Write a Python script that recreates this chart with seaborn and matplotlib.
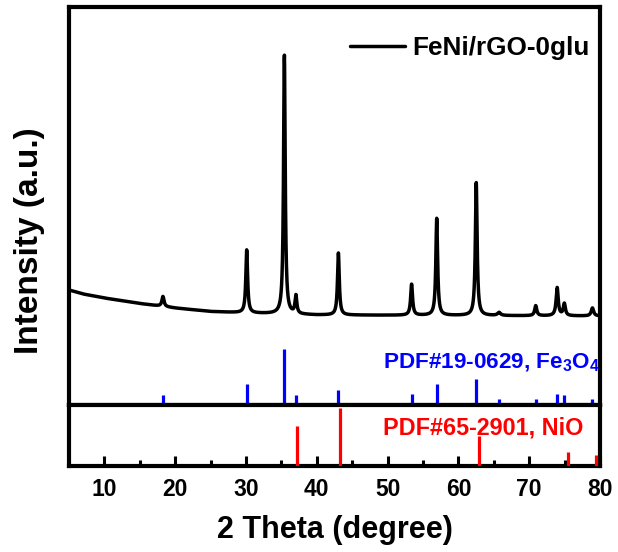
import numpy as np
import pandas as pd
import matplotlib
matplotlib.use("Agg")
import matplotlib.pyplot as plt
import seaborn as sns

# ---------------- data ----------------
# measured pattern: peak positions (deg), peak heights above background (a.u.)
peak_pos = [18.27, 30.10, 35.42, 37.05, 43.05, 53.39, 56.94, 62.52, 65.74, 70.92, 73.95, 74.96, 78.93]
peak_hgt = [10, 63, 259, 18, 62, 31, 97, 133, 3, 10, 28, 12, 8]
peak_fwhm = [0.35, 0.30, 0.28, 0.30, 0.30, 0.32, 0.30, 0.30, 0.5, 0.35, 0.35, 0.35, 0.4]
# background read at a few angles (a.u.)
bg_angle = [5, 7, 10, 15, 20, 25, 30, 40, 60, 80]
bg_level = [115, 111, 107, 101.5, 97, 93.5, 92, 90, 89.5, 89]

# reference sticks
fe3o4_pos = [18.27, 30.10, 35.42, 37.05, 43.05, 53.39, 56.94, 62.52, 65.74, 70.92, 73.95, 74.96, 78.93]
fe3o4_int = [10, 21, 56, 10, 15.5, 11, 21, 26, 6, 6, 11, 10, 6]
nio_pos = [37.25, 43.28, 62.88, 75.42, 79.41]
nio_int = [40, 58, 30, 14, 11]

x_ticks = [10, 20, 30, 40, 50, 60, 70, 80]
sample_label = "FeNi/rGO-0glu"
fe_label = r"PDF#19-0629, Fe$_\mathbf{3}$O$_\mathbf{4}$"
ni_label = "PDF#65-2901, NiO"

# ---------------- build measured profile ----------------
tt = np.linspace(5, 80, 6001)
inten = np.interp(tt, bg_angle, bg_level)
for p, h, w in zip(peak_pos, peak_hgt, peak_fwhm):
    g = (w / 2) ** 2
    inten = inten + h * g / ((tt - p) ** 2 + g)
df = pd.DataFrame({"2theta": tt, "I": inten})

# ---------------- style ----------------
sns.set_theme(style="white")
plt.rcParams["font.family"] = ["Liberation Sans", "DejaVu Sans"]
plt.rcParams["font.weight"] = "bold"
plt.rcParams["text.color"] = "black"
plt.rcParams["axes.labelcolor"] = "black"
plt.rcParams["xtick.color"] = "black"
plt.rcParams["ytick.color"] = "black"
plt.rcParams["mathtext.fontset"] = "custom"
plt.rcParams["mathtext.rm"] = "Liberation Sans:bold"
plt.rcParams["mathtext.bf"] = "Liberation Sans:bold"

W, H = 618, 552
fig = plt.figure(figsize=(W / 100, H / 100), dpi=100)
L, R, T, S, B = 69, 600, 7, 405, 466
ax1 = fig.add_axes([L / W, (H - S) / H, (R - L) / W, (S - T) / H])
ax2 = fig.add_axes([L / W, (H - B) / H, (R - L) / W, (B - S) / H], sharex=ax1)

spine_w = 3.0
for ax in (ax1, ax2):
    for sp in ax.spines.values():
        sp.set_linewidth(spine_w)
        sp.set_color("black")
    ax.set_facecolor("white")

# top panel: pattern + Fe3O4 sticks
sns.lineplot(data=df, x="2theta", y="I", ax=ax1, color="black", linewidth=2.5,
             label=sample_label)
ax1.vlines(fe3o4_pos, 0, fe3o4_int, color="#0000ff", linewidth=2.3)
ax1.set_ylim(0, S - T)
ax1.set_xlim(5, 80)
ax1.set_xlabel("")
ax1.set_ylabel("")
ax1.tick_params(axis="both", which="both", length=0, labelbottom=False, labelleft=False)
ax1.text(49.35, 37, fe_label, color="#0000ff", fontsize=16.2, fontweight="bold",
         ha="left", va="baseline")
leg = ax1.legend(loc="center right", bbox_to_anchor=((590 - L) / (R - L), (S - 48) / (S - T)),
                 frameon=False, fontsize=18.8, handlelength=2.1, handletextpad=0.3,
                 borderpad=0, borderaxespad=0)
for line in leg.get_lines():
    line.set_linewidth(2.5)
for t in leg.get_texts():
    t.set_color("black")

# bottom panel: NiO sticks
ax2.vlines(nio_pos, 0, nio_int, color="#ff0000", linewidth=2.3, zorder=3)
ax2.set_ylim(0, B - S)
ax2.set_yticks([])
ax2.set_xticks(x_ticks)
ax2.set_xticks([15, 25, 35, 45, 55, 65, 75], minor=True)
ax2.tick_params(axis="x", which="major", direction="in", length=7.5, width=2.2,
                labelsize=16.5, pad=9, bottom=True, top=False, colors="black")
ax2.tick_params(axis="x", which="minor", direction="in", length=4.3, width=2.2,
                bottom=True, top=False, colors="black")
for lab in ax2.get_xticklabels():
    lab.set_fontweight("bold")
ax2.text(49.35, 32, ni_label, color="#ff0000", fontsize=16.8, fontweight="bold",
         ha="left", va="baseline")
ax2.set_xlabel("2 Theta (degree)", fontsize=22, fontweight="bold", labelpad=10,
               color="black")
ax2.set_ylabel("")

fig.text(30 / W, (H - 241) / H, "Intensity (a.u.)", rotation=90, fontsize=24,
         fontweight="bold", ha="center", va="center", color="black")

fig.savefig("out.png", dpi=100, facecolor="white")
